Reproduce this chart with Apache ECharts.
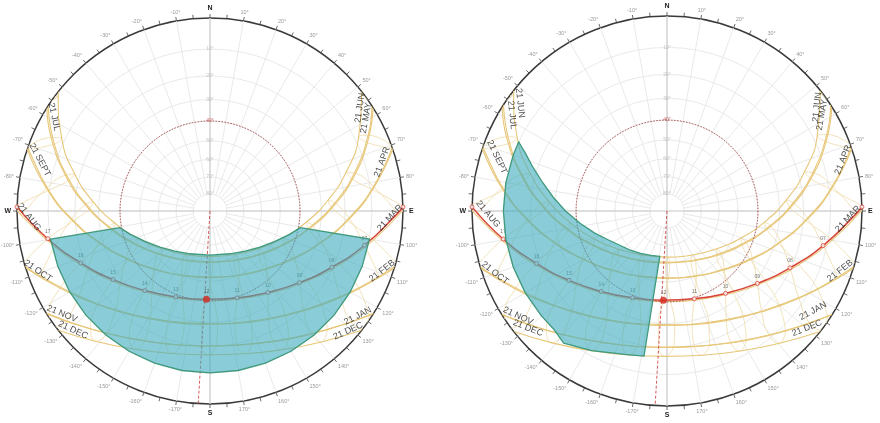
<!DOCTYPE html>
<html><head><meta charset="utf-8">
<script src="https://cdn.jsdelivr.net/npm/echarts@6/dist/echarts.min.js"></script>
<style>html,body{margin:0;padding:0;background:#fff}#c{width:880px;height:423px}</style>
</head><body><div id="c"></div>
<script>
// ---- sun positions (clock hours 4..20), latitude 50N, read for the 21st of each month ----
const hours = [4,5,6,7,8,9,10,11,12,13,14,15,16,17,18,19,20];
const months = ['JAN','FEB','MAR','APR','MAY','JUN','JUL','AUG','SEP','OCT','NOV','DEC'];
const altJAN = [null,null,null,null,0.8,8.3,14.2,18.3,20.0,19.2,16.0,10.7,3.7,null,null,null,null];
const azJAN  = [null,null,null,null,123.3,135.3,148.5,162.4,177.2,192.2,206.6,220.0,232.4,null,null,null,null];
const altFEB = [null,null,null,-0.8,8.1,16.2,22.7,27.3,29.3,28.6,25.1,19.4,12.0,3.4,null,null,null];
const azFEB  = [null,null,null,105.6,117.4,130.0,144.1,159.5,176.1,193.0,209.1,223.7,237.0,249.1,null,null,null];
const altMAR = [null,null,-1.0,8.6,17.8,26.3,33.3,38.2,40.2,38.9,34.7,28.1,20.0,10.9,1.3,null,null];
const azMAR  = [null,null,88.5,100.0,112.2,125.6,140.9,158.4,177.6,197.0,215.1,230.9,244.7,257.1,268.7,null,null];
const altAPR = [null,-0.1,9.3,18.9,28.4,37.2,44.8,50.0,51.9,49.9,44.5,36.9,28.0,18.5,8.9,-0.5,null];
const azAPR  = [null,71.2,82.5,94.0,106.2,120.2,136.9,157.3,180.5,203.6,223.8,240.4,254.3,266.5,277.9,289.3,null];
const altMAY = [-1.8,6.7,15.8,25.4,35.0,44.2,52.2,58.1,60.1,57.6,51.4,43.1,33.9,24.2,14.7,5.6,-2.7];
const azMAY  = [55.2,66.5,77.4,88.5,100.4,114.3,131.7,154.3,181.6,208.6,230.6,247.4,261.0,272.9,283.9,294.8,306.2];
const altJUN = [0.4,8.5,17.5,27.0,36.6,46.0,54.4,60.8,63.4,61.1,54.8,46.4,37.1,27.5,18.0,9.0,0.8];
const azJUN  = [52.3,63.4,74.1,84.9,96.5,110.0,127.1,150.0,179.2,208.6,231.9,249.2,262.8,274.5,285.3,296.0,307.1];
const altJUL = [-2.7,5.5,14.6,24.1,33.7,43.0,51.4,57.7,60.5,58.6,52.9,44.9,35.7,26.1,16.5,7.4,-1.0];
const azJUL  = [53.0,64.4,75.3,86.3,98.0,111.5,128.2,150.0,177.0,204.7,227.7,245.3,259.3,271.3,282.4,293.3,304.5];
const altAUG = [null,-0.5,8.8,18.4,27.9,36.9,44.6,50.0,52.2,50.4,45.2,37.7,28.9,19.4,9.8,0.4,null];
const azAUG  = [null,70.2,81.5,92.9,105.1,118.9,135.4,155.6,178.8,202.2,222.7,239.6,253.6,265.9,277.3,288.7,null];
const altSEP = [null,null,1.7,11.3,20.4,28.6,35.2,39.5,40.8,38.8,33.9,26.8,18.4,9.1,-0.5,null,null];
const azSEP  = [null,null,90.8,102.5,114.8,128.7,144.6,162.7,182.3,201.7,219.3,234.7,248.1,260.3,271.8,null,null];
const altOCT = [null,null,null,3.4,11.9,19.3,24.9,28.3,29.0,26.9,22.3,15.7,7.7,-1.3,null,null,null];
const azOCT  = [null,null,null,111.4,123.5,136.8,151.5,167.5,184.3,200.8,216.2,230.2,242.8,254.5,null,null,null];
const altNOV = [null,null,null,null,4.2,11.1,16.3,19.4,20.0,18.2,14.1,8.0,0.5,null,null,null,null];
const azNOV  = [null,null,null,null,128.2,140.6,154.1,168.6,183.5,198.3,212.4,225.4,237.3,null,null,null,null];
const altDEC = [null,null,null,null,-0.3,6.6,12.0,15.4,16.6,15.3,11.7,6.2,-0.8,null,null,null,null];
const azDEC  = [null,null,null,null,127.7,139.6,152.5,166.2,180.5,194.7,208.4,221.1,233.0,null,null,null,null];
const riseAz = [122.1,106.6,89.7,71.3,57.7,51.8,57.0,70.8,88.8,107.1,122.0,128.2];
const setAz  = [237.9,253.4,270.3,288.7,302.3,308.2,303.0,289.2,271.2,252.9,238.0,231.8];

// ---- shading masks (azimuth, altitude of outline) ----
const maskLeftAz  = [260,259.5,253.9,244.9,234.1,221.1,205.1,180,154.9,138.9,125.9,115.1,106.1,100.5,100,110,120,130,140,150,160,170,180,190,200,210,220,230,240,250];
const maskLeftAlt = [10,39.2,43.3,49.2,54.5,59.1,62.5,64.3,62.5,59.1,54.5,49.2,43.3,39.2,10,10,10,10,10,10,10,10,10,10,10,10,10,10,10,10];
const maskRightAz  = [189,200,212,224,234,244,253,262,270,277,283,288,292,295,290,280,270,260,250,240,230,224,218,208.4,194.7,189];
const maskRightAlt = [63.5,62.8,61.3,59,56.7,52.8,47.6,41.5,35,29,23.5,18.3,14,10,10,10,10,10,10,10,10,10,8.6,11.7,15.3,16];

// ---- grid / tick values ----
const gridAlt = [10,20,30,40,50,60,70,80];
const gridAz = [0,10,20,30,40,50,60,70,80,90,100,110,120,130,140,150,160,170,180,190,200,210,220,230,240,250,260,270,280,290,300,310,320,330,340,350];
const markAlt = 40;
const markAz = 183.5;
const redHours = ['07','08','09','10','11','12','13','14','15','16','17'];

// ---- date labels ----
const labelsLeft = [
  ['21 JUL',301.1,0.944,-78],['21 SEPT',286.7,0.92,-62],['21 AUG',268.1,0.938,-52],['21 OCT',250.8,0.944,-35],
  ['21 NOV',235.2,0.934,-23],['21 DEC',229,0.94,-25],['21 JUN',55.5,0.943,82],['21 MAY',59.2,0.941,80],
  ['21 APR',74.1,0.927,70],['21 MAR',92.2,0.933,47],['21 FEB',109.2,0.944,38],['21 JAN',125.4,0.94,27],['21 DEC',131,0.948,24]];
const labelsRight = [
  ['21 JUN',306.3,0.935,-84],['21 JUL',301.8,0.935,-84],['21 SEPT',287.6,0.915,-65],['21 AUG',269,0.918,-50],
  ['21 OCT',250.2,0.938,-38],['21 NOV',234.8,0.935,-25],['21 DEC',229.9,0.932,-22],['21 JUN',55.3,0.936,84],
  ['21 MAY',58.2,0.935,80],['21 APR',73.8,0.94,68],['21 MAR',92.5,0.929,47],['21 FEB',109.1,0.939,38],
  ['21 JAN',124.4,0.908,28],['21 DEC',129.9,0.936,22]];

const altByMonth = [altJAN,altFEB,altMAR,altAPR,altMAY,altJUN,altJUL,altAUG,altSEP,altOCT,altNOV,altDEC];
const azByMonth  = [azJAN,azFEB,azMAR,azAPR,azMAY,azJUN,azJUL,azAUG,azSEP,azOCT,azNOV,azDEC];

// stereographic projection of altitude onto the radius axis (0 = zenith, 1 = horizon)
function rho(alt){ return Math.tan((90 - Math.max(alt,0)) * Math.PI / 360); }
function pt(alt, az){ return [rho(alt), az]; }

const GOLD = '#e7c779', GOLD_L = '#f0dfb2', RED = '#d8453a';
const FONT = "'Liberation Sans', Arial, sans-serif";

const polarDefs = [{center:[210,211], radius:193}, {center:[667,211], radius:195}];
const series = [];

polarDefs.forEach((_, p) => {
  // grid
  series.push({type:'custom', coordinateSystem:'polar', polarIndex:p, silent:true, z:1, data:[[0,0]],
    renderItem:(params, api) => {
      const c = api.coord([0,0]); const ch = [];
      gridAlt.forEach(a => { const q = api.coord([rho(a),0]);
        ch.push({type:'circle', shape:{cx:c[0],cy:c[1],r:Math.hypot(q[0]-c[0],q[1]-c[1])}, style:{fill:'transparent',stroke:'#e3e3e3',lineWidth:0.8}}); });
      gridAz.forEach(az => { const a = api.coord([rho(80),az]), b = api.coord([1,az]);
        ch.push({type:'line', shape:{x1:a[0],y1:a[1],x2:b[0],y2:b[1]}, style:{stroke:'#e3e3e3',lineWidth:0.8}}); });
      [0,90].forEach(az => { const a = api.coord([1,az]), b = api.coord([1,az+180]);
        ch.push({type:'line', shape:{x1:a[0],y1:a[1],x2:b[0],y2:b[1]}, style:{stroke:'#c2c2c2',lineWidth:0.9}}); });
      return {type:'group', children:ch};
    }});
  // hour loops
  hours.forEach((h, i) => {
    let seg = [];
    const flush = () => { if (seg.length > 1) series.push({type:'line', coordinateSystem:'polar', polarIndex:p, data:seg, smooth:0.5,
      showSymbol:false, silent:true, z:2, lineStyle:{color:GOLD_L, width:0.9}}); seg = []; };
    for (let k = 0; k <= 12; k++) {
      const m = k % 12, a = altByMonth[m][i];
      if (a === null) flush(); else seg.push(pt(a, azByMonth[m][i]));
    }
    flush();
  });
  // date lines
  months.forEach((name, m) => {
    const d = [pt(0, riseAz[m])];
    altByMonth[m].forEach((a, i) => { if (a !== null && a > 0) d.push(pt(a, azByMonth[m][i])); });
    d.push(pt(0, setAz[m]));
    const red = name === 'SEP';
    series.push({type:'line', coordinateSystem:'polar', polarIndex:p, data:d, smooth:0.5, showSymbol:false, silent:true,
      z: red ? 4 : 3, lineStyle:{color: red ? RED : GOLD, width: red ? 1.5 : 1.1}});
  });
  // dashed 40° circle and dashed reference line
  series.push({type:'custom', coordinateSystem:'polar', polarIndex:p, silent:true, z:4, data:[[0,0]],
    renderItem:(params, api) => {
      const c = api.coord([0,0]), q = api.coord([rho(markAlt),0]);
      const a = api.coord([0,markAz]), b = api.coord([1,markAz]);
      return {type:'group', children:[
        {type:'circle', shape:{cx:c[0],cy:c[1],r:Math.hypot(q[0]-c[0],q[1]-c[1])}, style:{fill:'transparent',stroke:'#a94848',lineWidth:1,lineDash:[1.5,1.5]}},
        {type:'line', shape:{x1:a[0],y1:a[1],x2:b[0],y2:b[1]}, style:{stroke:'#d04848',lineWidth:0.9,lineDash:[3,2]}}]};
    }});
  // hour dots on the red path
  const dots = [];
  redHours.forEach(hh => { const i = hours.indexOf(+hh); if (hh !== '12') dots.push({name:hh, value:pt(altSEP[i], azSEP[i])}); });
  series.push({type:'scatter', coordinateSystem:'polar', polarIndex:p, silent:true, z:4, data:dots, symbolSize:4,
    itemStyle:{color:'#fff', borderColor:RED, borderWidth:1},
    label:{show:true, formatter:'{b}', position:'top', distance:2, fontSize:5, color:'#555', fontFamily:FONT}});
  const i12 = hours.indexOf(12);
  series.push({type:'scatter', coordinateSystem:'polar', polarIndex:p, silent:true, z:8,
    data:[{name:'12', value:pt(altSEP[i12], azSEP[i12])}], symbolSize:7, itemStyle:{color:'#d42a22'},
    label:{show:true, formatter:'{b}', position:'top', distance:2, fontSize:5, color:'#555', fontFamily:FONT}});
  series.push({type:'scatter', coordinateSystem:'polar', polarIndex:p, silent:true, z:4,
    data:[pt(0, riseAz[8]), pt(0, setAz[8])], symbolSize:4, itemStyle:{color:'#fff', borderColor:RED, borderWidth:1}});
  // altitude labels on the meridian
  series.push({type:'scatter', coordinateSystem:'polar', polarIndex:p, silent:true, z:3,
    data:gridAlt.map(a => ({value:pt(a,0), name:a+'°', label:a===markAlt?{color:'#c04040'}:{} })), symbolSize:0.1,
    itemStyle:{color:'transparent'},
    label:{show:true, formatter:'{b}', position:'inside', fontSize:5, color:'#b5b5b5', fontFamily:FONT}});
  // shading mask
  const mAz = p === 0 ? maskLeftAz : maskRightAz, mAlt = p === 0 ? maskLeftAlt : maskRightAlt;
  series.push({type:'custom', coordinateSystem:'polar', polarIndex:p, silent:true, z:6, data:[[0,0]],
    renderItem:(params, api) => ({type:'polygon', shape:{points:mAz.map((az,k) => api.coord(pt(mAlt[k], az)))},
      style:{fill:'rgba(60,172,192,0.6)', stroke:'#3f9a7c', lineWidth:1.3}})});
  // date labels
  const labs = p === 0 ? labelsLeft : labelsRight;
  series.push({type:'scatter', coordinateSystem:'polar', polarIndex:p, silent:true, z:7, symbolSize:0.1,
    itemStyle:{color:'transparent'},
    data:labs.map(l => ({name:l[0], value:[l[2], l[1]], label:{rotate:l[3]}})),
    label:{show:true, formatter:'{b}', position:'inside', fontSize:9, color:'#222', fontFamily:FONT}});
});

const angleAxis = polarDefs.map((_, p) => ({polarIndex:p, type:'value', min:0, max:360, interval:5, startAngle:90, clockwise:true,
  axisLine:{lineStyle:{color:'#3a3a3a', width:1.5}},
  axisTick:{show:true, length:4, lineStyle:{color:'#444', width:0.8}},
  splitLine:{show:false},
  axisLabel:{margin:6, fontSize:5.5, color:'#999', fontFamily:FONT,
    rich:{c:{fontSize:7, fontWeight:'bold', color:'#222', fontFamily:FONT}},
    formatter:v => { if (v % 10 !== 0 || v === 360) return ''; if (v===0) return '{c|N}'; if (v===90) return '{c|E}';
      if (v===180) return '{c|S}'; if (v===270) return '{c|W}'; return (v>180 ? v-360 : v) + '°'; }}}));
const radiusAxis = polarDefs.map((_, p) => ({polarIndex:p, type:'value', min:0, max:1, show:false}));

const chart = echarts.init(document.getElementById('c'), null, {renderer:'canvas'});
chart.setOption({animation:false, backgroundColor:'#fff', polar:polarDefs, angleAxis, radiusAxis, series});
</script></body></html>
